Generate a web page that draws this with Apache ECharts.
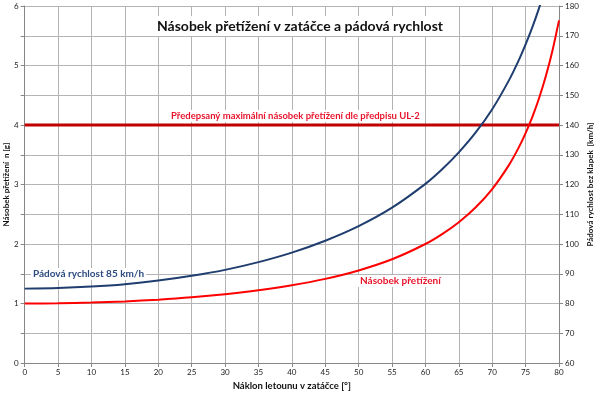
<!DOCTYPE html>
<html><head><meta charset="utf-8">
<script src="https://cdn.jsdelivr.net/npm/echarts@6/dist/echarts.min.js"></script>
<style>html,body{margin:0;padding:0;background:#fff}#c{width:600px;height:394px}</style>
</head><body><div id="c"></div>
<script>
var bankAngles = [0,5,10,15,20,25,30,35,40,45,50,55,60,62.5,65,67.5,70,72.5,74,75,76,77,78,79,80];
var loadFactor = [1.000,1.004,1.015,1.035,1.064,1.103,1.155,1.221,1.305,1.414,1.556,1.743,2.000,2.166,2.366,2.613,2.924,3.326,3.628,3.864,4.134,4.445,4.810,5.241,5.759];
var stallSpeed = [85.0,85.2,85.7,86.5,87.7,89.3,91.3,93.9,97.1,101.1,106.0,112.2,120.2,125.1,130.8,137.4,145.3,155.0,161.9,167.1,172.8,179.2,186.4,194.6,204.0];
var limitX = [0,80];
var limitN = 4;
var xTicks = {min:0,max:80,step:5};
var leftTicks = {min:0,max:6,step:0.5};
var rightTicks = {min:60,max:180,step:10};

var F = 'Lato, "Open Sans", sans-serif';
var chart = echarts.init(document.getElementById('c'));
chart.setOption({
  animation:false,
  backgroundColor:'#fff',
  grid:{left:24.7,right:41,top:6,bottom:31,containLabel:false,outerBoundsMode:'none'},
  title:{text:'Násobek přetížení v zatáčce a pádová rychlost',left:'center',top:16,
    backgroundColor:'#fff',padding:[3,6],
    textStyle:{fontFamily:F,fontWeight:'bold',fontSize:14,color:'#111'}},
  xAxis:{type:'value',min:xTicks.min,max:xTicks.max,interval:xTicks.step,
    name:'Náklon letounu v zatáčce [°]',nameLocation:'middle',nameGap:18,nameMoveOverlap:false,
    nameTextStyle:{fontFamily:F,fontWeight:'bold',fontSize:9.5,color:'#111'},
    axisLine:{lineStyle:{color:'#868686'}},axisTick:{length:4,lineStyle:{color:'#868686'}},
    axisLabel:{fontFamily:F,fontSize:8,color:'#222',margin:5},
    splitLine:{show:true,lineStyle:{color:'#b4b4b4',width:1}}},
  yAxis:[
    {type:'value',min:leftTicks.min,max:leftTicks.max,interval:leftTicks.step,
     name:'Násobek přetížení  n [g]',nameLocation:'middle',nameGap:14,nameRotate:90,nameMoveOverlap:false,
     nameTextStyle:{fontFamily:F,fontWeight:'bold',fontSize:8,color:'#111'},
     axisLine:{show:true,lineStyle:{color:'#868686'}},axisTick:{show:true,length:4,lineStyle:{color:'#868686'}},
     axisLabel:{fontFamily:F,fontSize:8,color:'#222',margin:6,formatter:function(v){return v%1===0?String(v):'';}},
     splitLine:{show:false}},
    {type:'value',min:rightTicks.min,max:rightTicks.max,interval:rightTicks.step,position:'right',
     name:'Pádová rychlost bez klapek  [km/h]',nameLocation:'middle',nameGap:27,nameRotate:90,nameMoveOverlap:false,
     nameTextStyle:{fontFamily:F,fontWeight:'bold',fontSize:8,color:'#111'},
     axisLine:{show:true,lineStyle:{color:'#868686'}},axisTick:{show:true,length:4,lineStyle:{color:'#868686'}},
     axisLabel:{fontFamily:F,fontSize:8,color:'#222',margin:6},
     splitLine:{show:true,lineStyle:{color:'#b4b4b4',width:1}}}
  ],
  series:[
    {type:'line',yAxisIndex:0,data:limitX.map(function(x){return [x,limitN];}),symbol:'none',
     lineStyle:{color:'#c00000',width:3},z:3},
    {type:'line',yAxisIndex:1,smooth:0.3,symbol:'none',clip:true,
     data:bankAngles.map(function(x,i){return [x,stallSpeed[i]];}),
     lineStyle:{color:'#1f3d6e',width:2},z:4},
    {type:'line',yAxisIndex:0,smooth:0.3,symbol:'none',clip:true,
     data:bankAngles.map(function(x,i){return [x,loadFactor[i]];}),
     lineStyle:{color:'#ff0000',width:2},z:5}
  ],
  graphic:[
    {type:'text',left:169,top:110,z:10,style:{text:'Předepsaný maximální násobek přetížení dle předpisu UL-2',fill:'#e8142c',font:'bold 9.5px '+F,backgroundColor:'#fff',padding:[1,2]}},
    {type:'text',left:31,top:268,z:10,style:{text:'Pádová rychlost 85 km/h',fill:'#2b4a7e',font:'bold 10px '+F,backgroundColor:'#fff',padding:[1,2]}},
    {type:'text',left:358,top:275,z:10,style:{text:'Násobek přetížení',fill:'#e8142c',font:'bold 10px '+F,backgroundColor:'#fff',padding:[1,2]}}
  ]
});
</script></body></html>
